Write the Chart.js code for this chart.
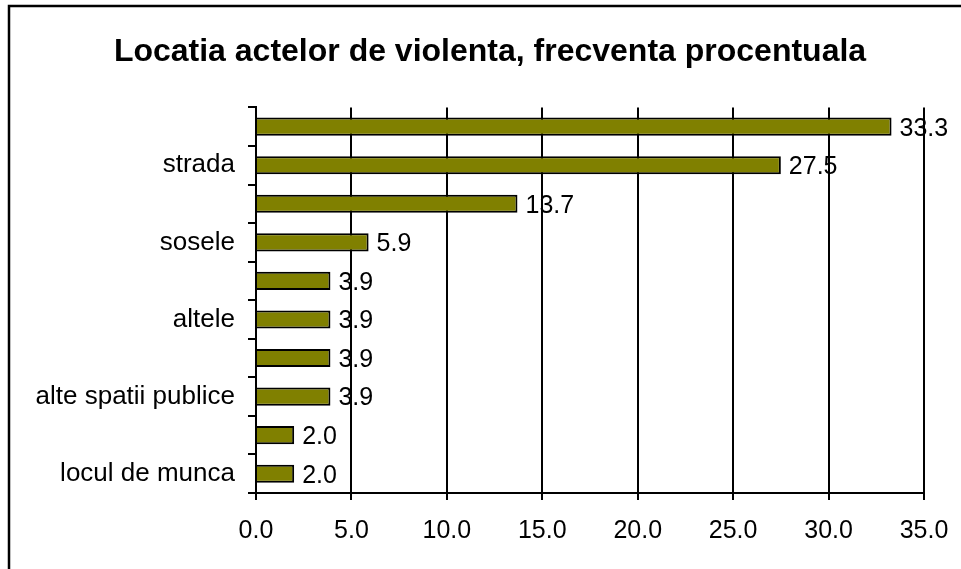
<!DOCTYPE html>
<html lang="ro">
<head>
  <meta charset="UTF-8">
  <title>Locatia actelor de violenta</title>
  <script src="https://cdn.jsdelivr.net/npm/chart.js"></script>
  <style>
    body { margin: 0; background: #fff; }
    canvas { display: block; }
  </style>
</head>
<body>
  <canvas id="chart" width="961" height="569"></canvas>

  <script>
    // categories top to bottom; every other label is hidden in the original
    const categories = ['', 'strada', '', 'sosele', '', 'altele', '', 'alte spatii publice', '', 'locul de munca'];
    const values = [33.3, 27.5, 13.7, 5.9, 3.9, 3.9, 3.9, 3.9, 2.0, 2.0];
    const xTicks = [0, 5, 10, 15, 20, 25, 30, 35];

    const FONT = "'Liberation Sans', Arial, sans-serif";

    // outer frame of the chart object (only top and left visible)
    const framePlugin = {
      id: 'frame',
      beforeDraw(chart) {
        const c = chart.ctx;
        c.save();
        c.strokeStyle = '#000';
        c.lineWidth = 2.5;
        c.beginPath();
        c.moveTo(9, 569);
        c.lineTo(9, 6);
        c.lineTo(961, 6);
        c.stroke();
        c.restore();
      }
    };

    // value labels to the right of each bar
    const valueLabels = {
      id: 'valueLabels',
      afterDatasetsDraw(chart) {
        const c = chart.ctx;
        const meta = chart.getDatasetMeta(0);
        c.save();
        c.fillStyle = '#000';
        c.font = '25px ' + FONT;
        c.textAlign = 'left';
        c.textBaseline = 'middle';
        meta.data.forEach((bar, i) => {
          c.fillText(values[i].toFixed(1), bar.x + 8, bar.y + 2);
        });
        c.restore();
      }
    };

    const ctx = document.getElementById('chart').getContext('2d');
    const chart = new Chart(ctx, {
      type: 'bar',
      data: {
        labels: categories,
        datasets: [{
          data: values,
          backgroundColor: '#808000',
          borderColor: '#000',
          borderWidth: 2,
          barPercentage: 0.47,
          categoryPercentage: 1
        }]
      },
      options: {
        indexAxis: 'y',
        responsive: false,
        animation: false,
        layout: { padding: { left: 19, right: 0, top: 0, bottom: 0 } },
        plugins: {
          legend: { display: false },
          tooltip: { enabled: false },
          title: {
            display: true,
            text: 'Locatia actelor de violenta, frecventa procentuala',
            color: '#000',
            font: { family: FONT, size: 32, weight: 'bold' },
            padding: { top: 33, bottom: 36 }
          }
        },
        scales: {
          y: {
            ticks: {
              color: '#000',
              font: { family: FONT, size: 26 },
              padding: 13,
              autoSkip: false
            },
            grid: {
              drawOnChartArea: false,
              color: '#000',
              lineWidth: 2,
              tickLength: 8
            },
            border: { color: '#000', width: 2 },
            afterFit(scale) { scale.width = 256 - 19; }
          },
          x: {
            min: xTicks[0],
            max: xTicks[xTicks.length - 1],
            afterBuildTicks(scale) { scale.ticks = xTicks.map(v => ({ value: v })); },
            ticks: {
              color: '#000',
              font: { family: FONT, size: 25 },
              padding: 16,
              callback: v => Number(v).toFixed(1)
            },
            grid: {
              color: '#000',
              lineWidth: 2,
              tickLength: 7
            },
            border: { color: '#000', width: 2 },
            afterFit(scale) {
              scale.height = 76;
              scale.paddingRight = 37;
            }
          }
        }
      },
      plugins: [framePlugin, valueLabels]
    });
  </script>
</body>
</html>
